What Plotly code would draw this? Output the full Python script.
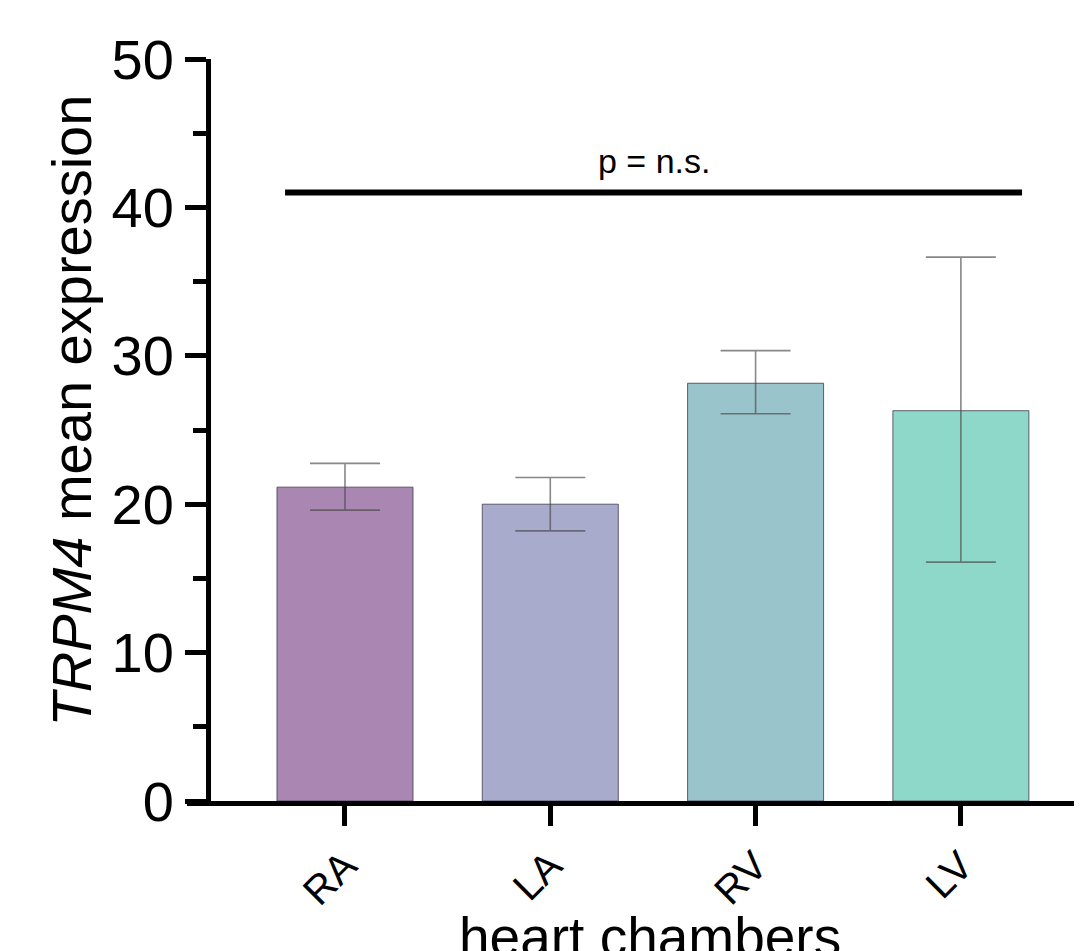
import plotly.graph_objects as go

categories = ["RA", "LA", "RV", "LV"]
means = [21.15, 20.0, 28.15, 26.3]
err_plus = [1.6, 1.8, 2.2, 10.35]
err_minus = [1.55, 1.8, 2.05, 10.2]
bar_colors = ["#AA87B2", "#A8ABCB", "#9AC4CC", "#8ED8C9"]

y_ticks = [0, 10, 20, 30, 40, 50]
sig_y = 41.0
sig_x = [-0.292, 3.298]
sig_label = "p = n.s."

FONT = "Arial, Liberation Sans, Arimo, sans-serif"

fig = go.Figure()
fig.add_trace(go.Bar(
    x=categories,
    y=means,
    width=0.6625,
    marker=dict(color=bar_colors, line=dict(color="rgba(60,60,80,0.8)", width=1)),
    error_y=dict(type="data", symmetric=False, array=err_plus, arrayminus=err_minus,
                 color="rgba(70,70,70,0.65)", thickness=1.6, width=35),
    showlegend=False,
))

fig.add_shape(type="line", xref="x", yref="y", x0=sig_x[0], x1=sig_x[1], y0=sig_y, y1=sig_y,
              line=dict(color="black", width=6))
fig.add_annotation(x=(sig_x[0] + sig_x[1]) / 2, y=sig_y + 2.15, xref="x", yref="y",
                   text=sig_label, showarrow=False, yanchor="middle",
                   font=dict(family=FONT, size=34, color="black"))

fig.add_annotation(x=-0.128, y=0.527, xref="paper", yref="paper",
                   text="<i>TRPM4</i> mean expression", textangle=-90, showarrow=False,
                   xanchor="center", yanchor="middle",
                   font=dict(family=FONT, size=56, color="black"))
fig.add_annotation(x=0.5172, y=-0.1835, xref="paper", yref="paper",
                   text="heart chambers", showarrow=False,
                   xanchor="center", yanchor="middle",
                   font=dict(family=FONT, size=55, color="black"))

fig.update_layout(
    width=1074, height=943,
    margin=dict(l=179, r=0, t=51, b=150),
    plot_bgcolor="white", paper_bgcolor="white",
    font=dict(family=FONT, color="black"),
    bargap=0.3,
    xaxis=dict(
        range=[-0.7696, 3.59], showgrid=False, zeroline=False,
        showline=True, linecolor="black", linewidth=5,
        ticks="outside", ticklen=20, tickwidth=5, tickcolor="black",
        tickangle=-45, tickfont=dict(family=FONT, size=40, color="black"),
    ),
    yaxis=dict(
        range=[0, 50], anchor="free", position=0.02346,
        showgrid=False, zeroline=False,
        showline=True, linecolor="black", linewidth=5,
        tickvals=y_ticks, ticks="outside", ticklen=21, tickwidth=5, tickcolor="black",
        tickfont=dict(family=FONT, size=56, color="black"),
        minor=dict(ticks="outside", ticklen=13, tickwidth=5, tickcolor="black", dtick=5, tick0=0),
    ),
)

fig.write_html("out.html")
